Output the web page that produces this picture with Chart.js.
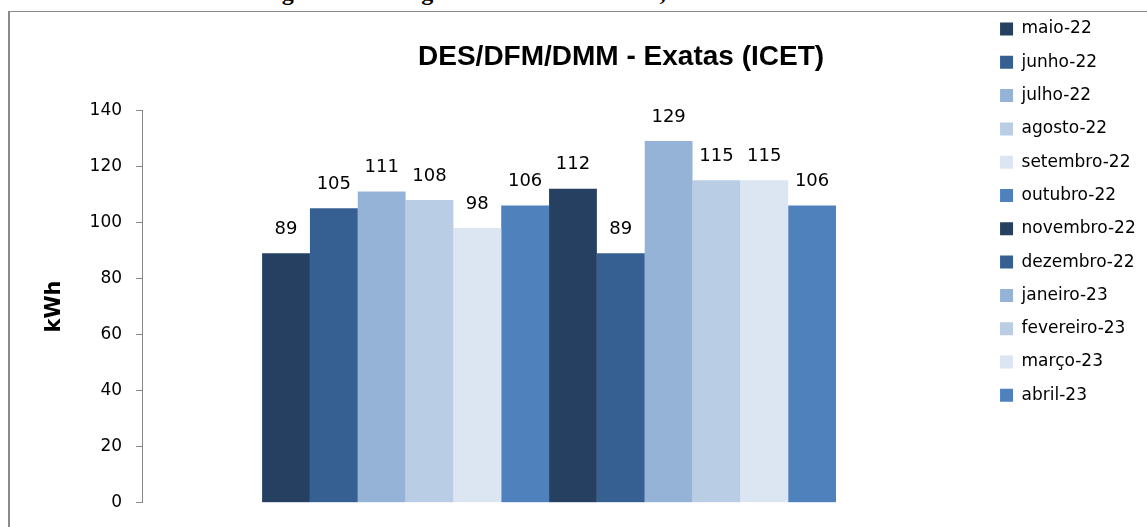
<!DOCTYPE html>
<html>
<head>
<meta charset="utf-8">
<script src="https://cdn.jsdelivr.net/npm/chart.js"></script>
<style>
  html, body { margin: 0; padding: 0; background: #fff; overflow: hidden; }
  #wrap { position: relative; width: 1147px; height: 527px; overflow: hidden; }
  #moldura { position: absolute; left: 8px; top: 11px; width: 1300px; height: 700px;
             border-left: 2px solid #8a8a8a; border-top: 1px solid #8a8a8a; }
  #legenda { position: absolute; left: 103px; top: -20px; white-space: nowrap;
             font: bold 24px "Liberation Serif"; line-height: 24px; color: #000; }
  #myChart { position: absolute; left: 0; top: 0; }
</style>
</head>
<body>
<div id="wrap">
  <div id="legenda">Consumo de energia elétrica registrado nos DES/DFM, ICET</div>
  <div id="moldura"></div>
  <canvas id="myChart" width="1147" height="527"></canvas>
</div>
<script>
const categorias = ['DES/DFM/DMM - Exatas (ICET)'];
const meses = ['maio-22', 'junho-22', 'julho-22', 'agosto-22', 'setembro-22', 'outubro-22',
               'novembro-22', 'dezembro-22', 'janeiro-23', 'fevereiro-23', 'março-23', 'abril-23'];
const consumo = [89, 105, 111, 108, 98, 106, 112, 89, 129, 115, 115, 106];
const yTicks = [0, 20, 40, 60, 80, 100, 120, 140];

const cores = ['#254061', '#376092', '#95B3D7', '#B9CDE5', '#DCE6F2', '#4F81BD'];

Chart.defaults.font.family = 'DejaVu Sans';
Chart.defaults.color = '#000';

// valores em cima das barras
const rotulos = {
    id: 'rotulos',
    afterDatasetsDraw(chart) {
        const c = chart.ctx;
        c.save();
        c.font = '18px "DejaVu Sans"';
        c.fillStyle = '#000';
        c.textAlign = 'center';
        c.textBaseline = 'middle';
        chart.data.datasets.forEach((ds, i) => {
            chart.getDatasetMeta(i).data.forEach((bar, j) => {
                c.fillText(ds.data[j], bar.x, bar.y - 24);
            });
        });
        c.restore();
    }
};

// o titulo no excel nao fica no centro da area do grafico
const deslocaTitulo = {
    id: 'deslocaTitulo',
    afterLayout(chart) {
        chart.titleBlock.left += 72;
        chart.titleBlock.right += 72;
    }
};

const ctx = document.getElementById('myChart');
const myChart = new Chart(ctx, {
    type: 'bar',
    data: {
        labels: categorias,
        datasets: meses.map((m, i) => ({
            label: m,
            data: [consumo[i]],
            backgroundColor: cores[i % cores.length],
            borderWidth: 0
        }))
    },
    options: {
        responsive: false,
        animation: false,
        layout: { padding: { top: 4.2, left: 20, right: 1.3, bottom: 23 } },
        datasets: { bar: { categoryPercentage: 0.705, barPercentage: 1 } },
        plugins: {
            tooltip: { enabled: false },
            title: {
                display: true,
                text: categorias[0],
                fullSize: false,
                font: { family: 'Liberation Sans', size: 28, weight: 'bold' },
                padding: { top: 36, bottom: 36.4 }
            },
            legend: {
                position: 'right',
                fullSize: true,
                align: 'start',
                labels: {
                    boxWidth: 13,
                    boxHeight: 13,
                    padding: 16.3,
                    font: { size: 17 }
                }
            }
        },
        scales: {
            x: { display: false },
            y: {
                min: 0,
                max: 140,
                afterBuildTicks: s => { s.ticks = yTicks.map(v => ({ value: v })); },
                ticks: { font: { size: 17 }, padding: 14 },
                grid: {
                    drawOnChartArea: false,
                    tickLength: 6,
                    color: '#868686'
                },
                border: { color: '#868686' },
                title: {
                    display: true,
                    text: 'kWh',
                    font: { size: 21, weight: 'bold' },
                    padding: { top: 22.4, bottom: 8 }
                }
            },
            // so para deixar o espaco entre o grafico e a legenda
            y2: {
                position: 'right',
                grid: { display: false },
                border: { display: false },
                ticks: { display: false },
                afterFit: s => { s.width = 27.7; }
            }
        }
    },
    plugins: [rotulos, deslocaTitulo]
});
</script>
</body>
</html>
